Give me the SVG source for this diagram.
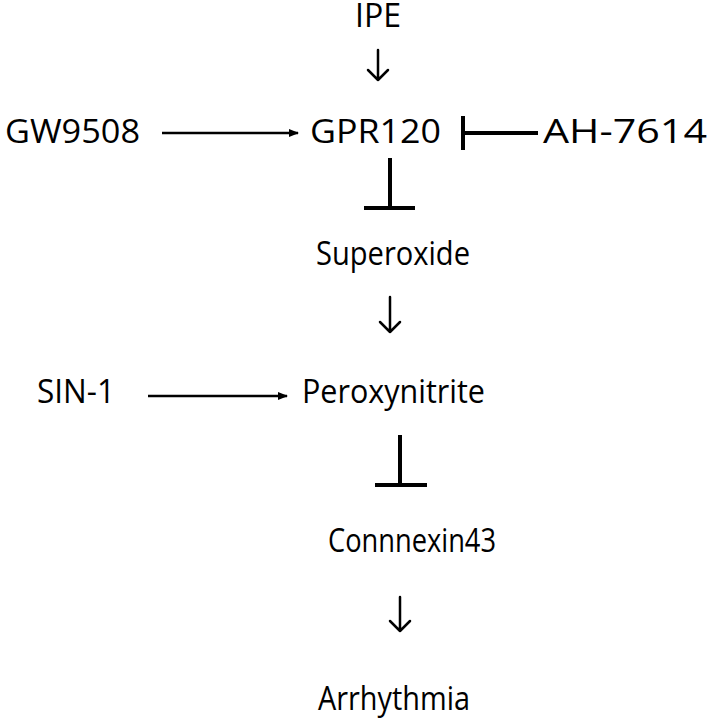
<svg xmlns="http://www.w3.org/2000/svg" width="709" height="721" viewBox="0 0 709 721">
<defs>
<style>
text{font-family:"Open Sans","Noto Sans","Liberation Sans",sans-serif;font-size:32px;fill:#000}
.ln{stroke:#000;stroke-width:2.5;fill:none}
.inh{stroke:#000;stroke-width:4;fill:none}
.open{stroke:#000;stroke-width:2.5;fill:none;stroke-linecap:round;stroke-linejoin:round}
</style>
<marker id="ah" markerWidth="10" markerHeight="8" refX="9" refY="4" orient="auto" markerUnits="userSpaceOnUse">
<path d="M0,0 L10,4 L0,8 Z" fill="#000"/>
</marker>
</defs>
<rect width="709" height="721" fill="#fff"/>
<g id="IPE"><text x="355" y="27" textLength="46" lengthAdjust="spacingAndGlyphs">IPE</text></g>
<g id="GW9508"><text x="5" y="143" textLength="135" lengthAdjust="spacingAndGlyphs">GW9508</text></g>
<g id="GPR120"><text x="310" y="143" textLength="131" lengthAdjust="spacingAndGlyphs">GPR120</text></g>
<g id="AH-7614"><text x="543" y="143" textLength="164" lengthAdjust="spacingAndGlyphs">AH-7614</text></g>
<g id="Superoxide"><text x="316" y="265" textLength="154" lengthAdjust="spacingAndGlyphs">Superoxide</text></g>
<g id="SIN-1"><text x="37" y="403" textLength="78" lengthAdjust="spacingAndGlyphs">SIN-1</text></g>
<g id="Peroxynitrite"><text x="302" y="403" textLength="183" lengthAdjust="spacingAndGlyphs">Peroxynitrite</text></g>
<g id="Connnexin43"><text x="328" y="552" textLength="168" lengthAdjust="spacingAndGlyphs">Connnexin43</text></g>
<g id="Arrhythmia"><text x="318" y="710" textLength="152" lengthAdjust="spacingAndGlyphs">Arrhythmia</text></g>
<g id="connectors">
<path class="open" d="M378,50 V80 M368,70 L378,80 L388,70"/>
<path class="ln" d="M162,133 H298" marker-end="url(#ah)"/>
<path class="inh" d="M538,133 H463 M463,116 V150"/>
<path class="inh" d="M390,158 V208 M364,208 H415"/>
<path class="open" d="M390,297 V332 M380,322 L390,332 L400,322"/>
<path class="ln" d="M148,396 H287" marker-end="url(#ah)"/>
<path class="inh" d="M400,435 V485 M375,485 H427"/>
<path class="open" d="M400,597 V631 M390,621 L400,631 L410,621"/>
</g>
</svg>
